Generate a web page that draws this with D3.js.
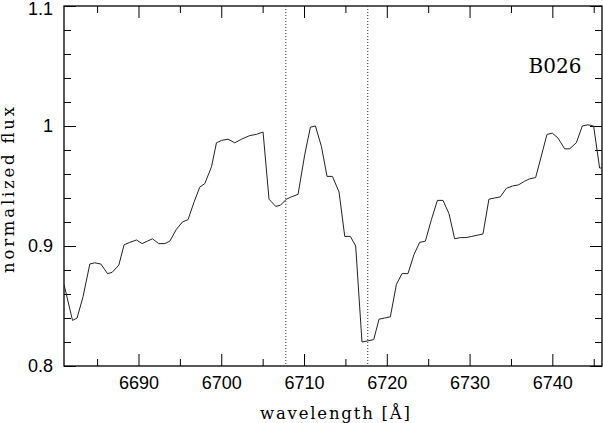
<!DOCTYPE html>
<html>
<head>
<meta charset="utf-8">
<script src="https://cdn.jsdelivr.net/npm/d3@7"></script>
<style>
  body { margin: 0; background: #fff; }
  .tick text { font-family: "Liberation Sans", Arial, sans-serif; font-size: 18px; fill: #000; }
  .domain { display: none; }
  .tick line { stroke: #000; stroke-width: 1; }
</style>
</head>
<body>
<svg width="603" height="423"></svg>
<script>
const wavelength = [6681.0, 6682.03, 6682.58, 6683.31, 6684.12, 6684.72, 6685.45, 6686.26, 6686.81, 6687.62,
    6688.26, 6688.95, 6689.76, 6690.43, 6691.06, 6691.69, 6692.45, 6693.18, 6693.78, 6694.59,
    6695.31, 6695.99, 6696.68, 6697.40, 6698.01, 6698.82, 6699.42, 6700.02, 6700.82, 6701.63,
    6702.44, 6703.44, 6704.23, 6705.05, 6705.77, 6706.58, 6707.15, 6707.87, 6708.48, 6709.28,
    6710.08, 6710.77, 6711.38, 6712.10, 6712.78, 6713.43, 6714.23, 6714.92, 6715.60, 6716.24,
    6717.00, 6717.73, 6718.42, 6719.06, 6719.75, 6720.43, 6721.16, 6721.84, 6722.56, 6723.29,
    6723.97, 6724.66, 6725.39, 6726.11, 6726.79, 6727.51, 6728.20, 6728.89, 6729.57, 6730.26,
    6730.95, 6731.62, 6732.34, 6733.03, 6733.72, 6734.44, 6735.17, 6735.93, 6736.65, 6737.26,
    6737.98, 6738.67, 6739.35, 6740.00, 6740.68, 6741.49, 6742.09, 6742.90, 6743.62, 6744.30,
    6744.99, 6745.71, 6746.4];
const flux = [0.868, 0.838, 0.840, 0.858, 0.885, 0.886, 0.885, 0.877, 0.878, 0.884,
    0.901, 0.903, 0.905, 0.902, 0.904, 0.906, 0.902, 0.902, 0.904, 0.914,
    0.920, 0.922, 0.936, 0.949, 0.952, 0.966, 0.986, 0.988, 0.989, 0.986,
    0.989, 0.992, 0.993, 0.995, 0.939, 0.933, 0.934, 0.939, 0.941, 0.943,
    0.976, 0.999, 1.000, 0.983, 0.958, 0.958, 0.945, 0.908, 0.908, 0.900,
    0.820, 0.821, 0.822, 0.839, 0.840, 0.841, 0.868, 0.877, 0.877, 0.893,
    0.903, 0.904, 0.922, 0.938, 0.938, 0.927, 0.906, 0.907, 0.907, 0.908,
    0.909, 0.910, 0.939, 0.940, 0.941, 0.948, 0.950, 0.951, 0.954, 0.956,
    0.957, 0.975, 0.993, 0.994, 0.990, 0.981, 0.981, 0.986, 1.000, 1.001,
    1.000, 0.965, 0.965];
const lineMarks = [6707.8, 6717.7];
const xMajor = [6690, 6700, 6710, 6720, 6730, 6740];
const xMinor = [6685, 6695, 6705, 6715, 6725, 6735, 6745];
const yMajor = [0.8, 0.9, 1.0, 1.1];
const yMinor = [0.82, 0.84, 0.86, 0.88, 0.92, 0.94, 0.96, 0.98, 1.02, 1.04, 1.06, 1.08];
const yLabels = ['0.8', '0.9', '1', '1.1'];

const mLeft = 64, mRight = 602, mTop = 6, mBottom = 366;
const svg = d3.select('svg');
const x = d3.scaleLinear().domain([6681, 6746]).range([mLeft, mRight]);
const y = d3.scaleLinear().domain([0.8, 1.1]).range([mBottom, mTop]);

svg.append('clipPath').attr('id', 'clip')
    .append('rect').attr('x', mLeft).attr('y', mTop).attr('width', mRight - mLeft).attr('height', mBottom - mTop);

// axes: ticks on all four sides, pointing inward
const addX = (axisFn, ypos, vals, size, labels) => {
    const a = axisFn(x).tickValues(vals).tickSizeInner(-size).tickSizeOuter(0).tickPadding(10);
    a.tickFormat(labels ? d3.format('d') : '');
    return svg.append('g').attr('transform', `translate(0,${ypos})`).call(a);
};
const addY = (axisFn, xpos, vals, size, labels) => {
    const a = axisFn(y).tickValues(vals).tickSizeInner(-size).tickSizeOuter(0).tickPadding(11);
    a.tickFormat(labels ? (d => yLabels[yMajor.indexOf(d)]) : '');
    return svg.append('g').attr('transform', `translate(${xpos},0)`).call(a);
};
addX(d3.axisBottom, mBottom, xMajor, 12, true);
addX(d3.axisBottom, mBottom, xMinor, 7, false);
addX(d3.axisTop, mTop, xMajor, 12, false);
addX(d3.axisTop, mTop, xMinor, 7, false);
const yAxisG = addY(d3.axisLeft, mLeft, yMajor, 12, true);
addY(d3.axisLeft, mLeft, yMinor, 7, false);
addY(d3.axisRight, mRight, yMajor, 12, false);
addY(d3.axisRight, mRight, yMinor, 7, false);
// top label sits a little lower so it stays inside the page
yAxisG.selectAll('.tick text').filter(d => d === 1.1).attr('dy', '0.45em');

svg.append('rect')
    .attr('x', mLeft).attr('y', mTop).attr('width', mRight - mLeft).attr('height', mBottom - mTop)
    .attr('fill', 'none').attr('stroke', '#000').attr('stroke-width', 1.3);

// dotted line positions
svg.selectAll('.mark')
    .data(lineMarks)
    .enter()
    .append('line')
    .attr('x1', d => x(d)).attr('x2', d => x(d))
    .attr('y1', mTop).attr('y2', mBottom)
    .attr('stroke', '#333').attr('stroke-width', 1)
    .attr('stroke-dasharray', '1,2');

const pts = wavelength.map((w, i) => [w, flux[i]]);
svg.append('path')
    .datum(pts)
    .attr('clip-path', 'url(#clip)')
    .attr('d', d3.line().x(d => x(d[0])).y(d => y(d[1])))
    .attr('fill', 'none')
    .attr('stroke', '#222')
    .attr('stroke-width', 1);

svg.append('text')
    .attr('x', 555).attr('y', 73)
    .attr('text-anchor', 'middle')
    .style('font-family', '"DejaVu Serif", serif')
    .style('font-size', '20px')
    .text('B026');

svg.append('text')
    .attr('x', 260).attr('y', 419)
    .attr('textLength', 150).attr('lengthAdjust', 'spacing')
    .style('font-family', '"DejaVu Serif", serif')
    .style('font-size', '16.5px')
    .text('wavelength [Å]');

svg.append('text')
    .attr('transform', 'translate(14,273) rotate(-90)')
    .attr('textLength', 166).attr('lengthAdjust', 'spacing')
    .style('font-family', '"DejaVu Serif", serif')
    .style('font-size', '16.5px')
    .text('normalized flux');
</script>
</body>
</html>
